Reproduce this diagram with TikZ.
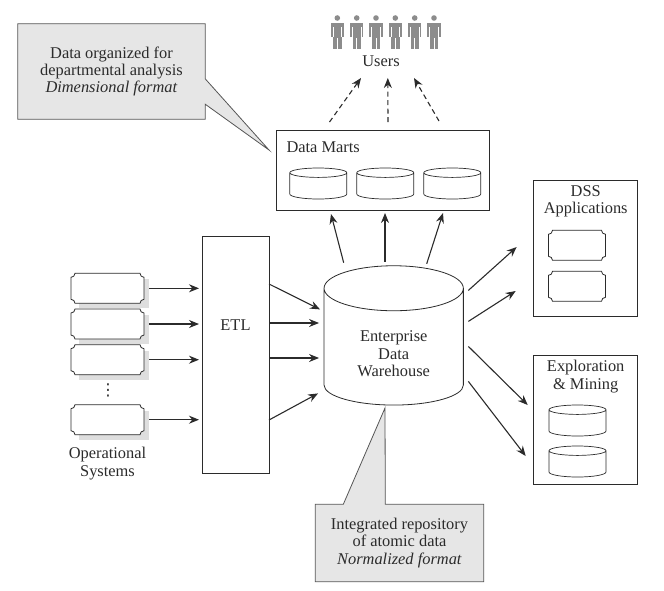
\documentclass[tikz,border=0pt]{standalone}
\usepackage{fontspec}
\setmainfont{Liberation Serif}
\newfontfamily\dotsfont{DejaVu Sans}
\usepackage{xcolor}
\usetikzlibrary{arrows.meta,positioning,calc,backgrounds}
\definecolor{ink}{HTML}{2B2B2B}
\definecolor{note}{HTML}{E6E6E6}
\definecolor{softgray}{HTML}{DEDEDE}
\definecolor{figure}{HTML}{8C8C8C}

% concave corners, #1 is the node
\newcommand{\plaquepath}[1]{
  ($(#1.north west)+(4pt,0)$) -- ($(#1.north east)+(-4pt,0)$)
  arc[start angle=180,end angle=270,radius=4pt] -- ($(#1.south east)+(0,4pt)$)
  arc[start angle=90,end angle=180,radius=4pt] -- ($(#1.south west)+(4pt,0)$)
  arc[start angle=0,end angle=90,radius=4pt] -- ($(#1.north west)+(0,-4pt)$)
  arc[start angle=270,end angle=360,radius=4pt] -- cycle}
% drum outline, #1 node, #2 half width, #3 depth of the top, #4 depth of the base
\newcommand{\vatpath}[4]{
  ($(#1.north west)+(0,-#3)$) -- ($(#1.south west)+(0,#4)$)
  arc[start angle=180,end angle=360,x radius=#2,y radius=#4]
  -- ($(#1.north east)+(0,-#3)$)
  arc[start angle=0,end angle=180,x radius=#2,y radius=#3]
  arc[start angle=180,end angle=360,x radius=#2,y radius=#3]}

\begin{document}
\begin{tikzpicture}[
    x=1pt, y=-1pt,
    every node/.style={font=\fontsize{16.4}{17.4}\selectfont, align=center, text=ink},
    frame/.style={draw=ink, line width=0.8pt, outer sep=0pt, inner sep=0pt},
    plaque/.style={minimum width=57pt, minimum height=30pt, outer sep=0pt, inner sep=0pt,
      append after command={\pgfextra{\draw[ink, line width=0.8pt, fill=white] \plaquepath{\tikzlastnode};}}},
    opsys/.style={minimum width=73pt, minimum height=30pt, outer sep=0pt, inner sep=0pt,
      append after command={\pgfextra{
        \fill[softgray] ($(\tikzlastnode.north west)+(8pt,-6pt)$) rectangle ($(\tikzlastnode.south east)+(5pt,-5pt)$);
        \draw[ink, line width=0.8pt, fill=white] \plaquepath{\tikzlastnode};}}},
    smallvat/.style={minimum width=57pt, minimum height=31pt, outer sep=0pt, inner sep=0pt,
      append after command={\pgfextra{\draw[ink, line width=0.7pt, fill=white] \vatpath{\tikzlastnode}{28.5pt}{4.7pt}{5pt};}}},
    bigvat/.style={minimum width=139.3pt, minimum height=139.3pt, outer sep=0pt, inner sep=0pt,
      append after command={\pgfextra{\draw[ink, line width=0.8pt, fill=white] \vatpath{\tikzlastnode}{69.65pt}{22.5pt}{20pt};}}},
    arr/.style={-{Stealth[length=10pt,width=8pt]}, line width=1.1pt, ink},
    dasharr/.style={arr, dash pattern=on 5pt off 3.5pt},
    callout/.style={draw=ink!80, line width=0.8pt, fill=note},
  ]
  \useasboundingbox (0,0) rectangle (664,590);

  % users
  \foreach \x in {337.3,356.7,376,395.3,414.7,434} {
    \fill[figure] (\x,18) circle[radius=2.8pt];
    \fill[figure] (\x-6.7,23) rectangle (\x+6.7,37);
    \fill[figure] (\x-4.2,37) rectangle (\x+4.2,49);
    \draw[white, line width=0.6pt] (\x,38) -- (\x,49) (\x-4.3,27) -- (\x-4.3,37) (\x+4.3,27) -- (\x+4.3,37);
  }
  \node (users) at (381,61) {Users};

  % data marts
  \node[frame, minimum width=213pt, minimum height=80pt] (marts) at (382.5,170) {};
  \node[anchor=west] (martslbl) at (283,147) {Data Marts};
  \node[smallvat] (mart1) at (318.3,183.5) {};
  \node[smallvat, right=10pt of mart1] (mart2) {};
  \node[smallvat, right=10pt of mart2] (mart3) {};

  % warehouse
  \node[bigvat] (edw) at (393.7,335.4) {};
  \node (edwlbl) at (393.7,354) {Enterprise\\Data\\Warehouse};

  % etl
  \node[frame, minimum width=67pt, minimum height=237pt] (etl) at (235.5,354.5) {};
  \node (etllbl) at (235.5,325) {ETL};

  % operational systems
  \node[opsys] (op1) at (107.5,288.3) {};
  \node[opsys, below=5.7pt of op1] (op2) {};
  \node[opsys, below=5.7pt of op2] (op3) {};
  \node[opsys, below=30pt of op3] (op4) {};
  \node (opdots) at (108,390) {\dotsfont ⋮};
  \node[below=9pt of op4] (oplbl) {Operational\\Systems};

  % dss
  \node[frame, minimum width=104pt, minimum height=136pt] (dss) at (585.7,248) {};
  \node[below=2pt of dss.north] (dsslbl) {DSS\\Applications};
  \node[plaque] (app1) at (577,245.3) {};
  \node[plaque, below=11pt of app1] (app2) {};

  % exploration
  \node[frame, minimum width=104pt, minimum height=129pt] (expl) at (585.7,419.5) {};
  \node[below=2pt of expl.north] (expllbl) {Exploration\\\& Mining};
  \node[smallvat] (mine1) at (577.5,420.5) {};
  \node[smallvat, below=10pt of mine1] (mine2) {};

  % notes
  \node (dmnote) at (111.5,71.5) [minimum width=187pt, minimum height=95pt] {Data organized for\\departmental analysis\\\textit{Dimensional format}};
  \coordinate (dmtip) at (269,150);
  \node (edwnote) at (399.5,543) [minimum width=168pt, minimum height=77pt] {Integrated repository\\of atomic data\\\textit{Normalized format}};
  \coordinate (edwtip) at (385,408);
  \begin{scope}[on background layer]
    \draw[callout] (dmnote.north west) -- (dmnote.north east) -- ($(dmnote.north east)+(0,-55pt)$)
      -- (dmtip) -- ($(dmnote.south east)+(0,15pt)$) -- (dmnote.south east) -- (dmnote.south west) -- cycle;
    \draw[callout] (edwnote.north west) -- ($(edwnote.north west)+(28pt,0)$) -- (edwtip)
      -- ($(edwnote.north west)+(70pt,0)$) -- (edwnote.north east) -- (edwnote.south east) -- (edwnote.south west) -- cycle;
  \end{scope}

  \foreach \n in {1,2,3,4}
    \draw[arr, shorten <=5pt, shorten >=3pt] (op\n.east) -- (op\n.east -| etl.west);

  \draw[arr] ($(etl.north east)+(0,-48pt)$) -- ($(edw.west)+(-4pt,26pt)$);
  \draw[arr] ($(etl.north east)+(0,-87pt)$) -- ($(edw.west)+(-5pt,12.4pt)$);
  \draw[arr] ($(etl.north east)+(0,-122pt)$) -- ($(edw.west)+(-5pt,-22.6pt)$);
  \draw[arr] ($(etl.north east)+(0,-184pt)$) -- ($(edw.west)+(-6pt,-58pt)$);

  \draw[arr] ($(edw.north)+(-50pt,3pt)$) -- ($(marts.south)+(-51.5pt,-4pt)$);
  \draw[arr] ($(edw.north)+(-8.7pt,4pt)$) -- ($(marts.south)+(2.5pt,-3pt)$);
  \draw[arr] ($(edw.north)+(33pt,2pt)$) -- ($(marts.south)+(60.5pt,-3pt)$);

  \draw[dasharr] ($(marts.north)+(-53pt,8pt)$) -- ($(users.south)+(-20pt,-8pt)$);
  \draw[dasharr] ($(marts.north)+(5.5pt,8pt)$) -- ($(users.south)+(6.8pt,-8pt)$);
  \draw[dasharr] ($(marts.north)+(56.5pt,9pt)$) -- ($(users.south)+(33pt,-8pt)$);

  \draw[arr] ($(edw.east)+(5pt,45pt)$) -- ($(dss.west)+(-17pt,1pt)$);
  \draw[arr] ($(edw.east)+(5pt,14pt)$) -- ($(dss.west)+(-18pt,-43pt)$);
  \draw[arr] ($(edw.east)+(5pt,-11pt)$) -- ($(expl.north west)+(-6pt,-50pt)$);
  \draw[arr] ($(edw.east)+(5pt,-46pt)$) -- ($(expl.north west)+(-8pt,-101pt)$);
\end{tikzpicture}
\end{document}
